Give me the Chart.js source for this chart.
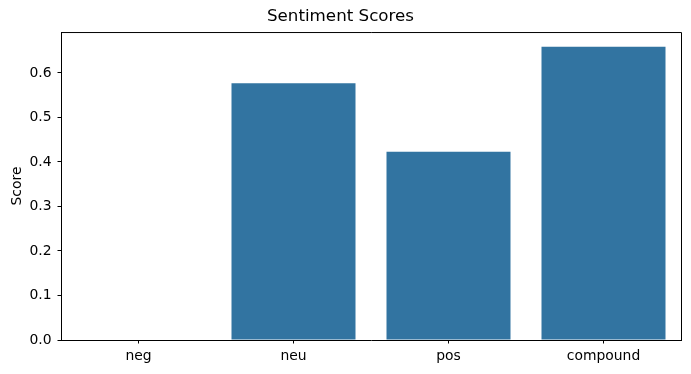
<!DOCTYPE html>
<html>
<head>
<meta charset="utf-8">
<title>Sentiment Scores</title>
<script src="https://cdn.jsdelivr.net/npm/chart.js@4/dist/chart.umd.min.js"></script>
<style>
  html, body { margin: 0; padding: 0; background: #fff; }
  #wrap { width: 691px; height: 374px; }
</style>
</head>
<body>
<div id="wrap"><canvas id="chart" width="691" height="374"></canvas></div>
<script>
// data
const categories = ['neg', 'neu', 'pos', 'compound'];
const scores = [0.0, 0.577, 0.423, 0.659];
const yTicks = [0.0, 0.1, 0.2, 0.3, 0.4, 0.5, 0.6];

const FONT = '"DejaVu Sans", sans-serif';
const barColor = '#3274a1';

// matplotlib style box: top + right spines
const frame = {
  id: 'frame',
  afterDraw(chart) {
    const { ctx, chartArea: a } = chart;
    ctx.save();
    ctx.strokeStyle = '#000';
    ctx.lineWidth = 1;
    ctx.beginPath();
    ctx.moveTo(a.left, a.top + 0.5);
    ctx.lineTo(a.right + 0.5, a.top + 0.5);
    ctx.lineTo(a.right + 0.5, a.bottom);
    ctx.stroke();
    ctx.restore();
  }
};

const ctx = document.getElementById('chart').getContext('2d');
new Chart(ctx, {
  type: 'bar',
  data: {
    labels: categories,
    datasets: [
      {
        label: 'Score',
        data: scores,
        backgroundColor: barColor,
        borderWidth: 0,
        inflateAmount: 0,
        categoryPercentage: 1.0,
        barPercentage: 0.8,
      },
    ],
  },
  options: {
    responsive: false,
    animation: false,
    events: [],
    layout: { padding: { left: 0, right: 10, top: 0, bottom: 0 } },
    plugins: {
      legend: { display: false },
      tooltip: { enabled: false },
      title: {
        display: true,
        text: 'Sentiment Scores',
        color: '#000',
        font: { family: FONT, size: 16.7, weight: 'normal' },
        padding: { top: 7, bottom: 5 },
      },
    },
    scales: {
      x: {
        grid: { offset: false, drawOnChartArea: false, drawTicks: true, tickLength: 3.5, color: '#000' },
        border: { display: true, color: '#000', width: 1 },
        ticks: { color: '#000', padding: 5, font: { family: FONT, size: 13.9 } },
        afterFit: (scale) => { scale.height = 34; },
      },
      y: {
        min: 0,
        max: 0.692,
        grid: { drawOnChartArea: false, drawTicks: true, tickLength: 3.5, color: '#000' },
        border: { display: true, color: '#000', width: 1 },
        ticks: {
          color: '#000',
          padding: 6,
          includeBounds: false,
          font: { family: FONT, size: 13.9 },
          callback: (v) => Number(v).toFixed(1),
        },
        afterBuildTicks: (scale) => { scale.ticks = yTicks.map((v) => ({ value: v })); },
        title: {
          display: true,
          text: 'Score',
          color: '#000',
          font: { family: FONT, size: 13.9 },
          padding: { top: 9, bottom: 0 },
        },
        afterFit: (scale) => { scale.width = 61; },
      },
    },
  },
  plugins: [frame],
});
</script>
</body>
</html>
